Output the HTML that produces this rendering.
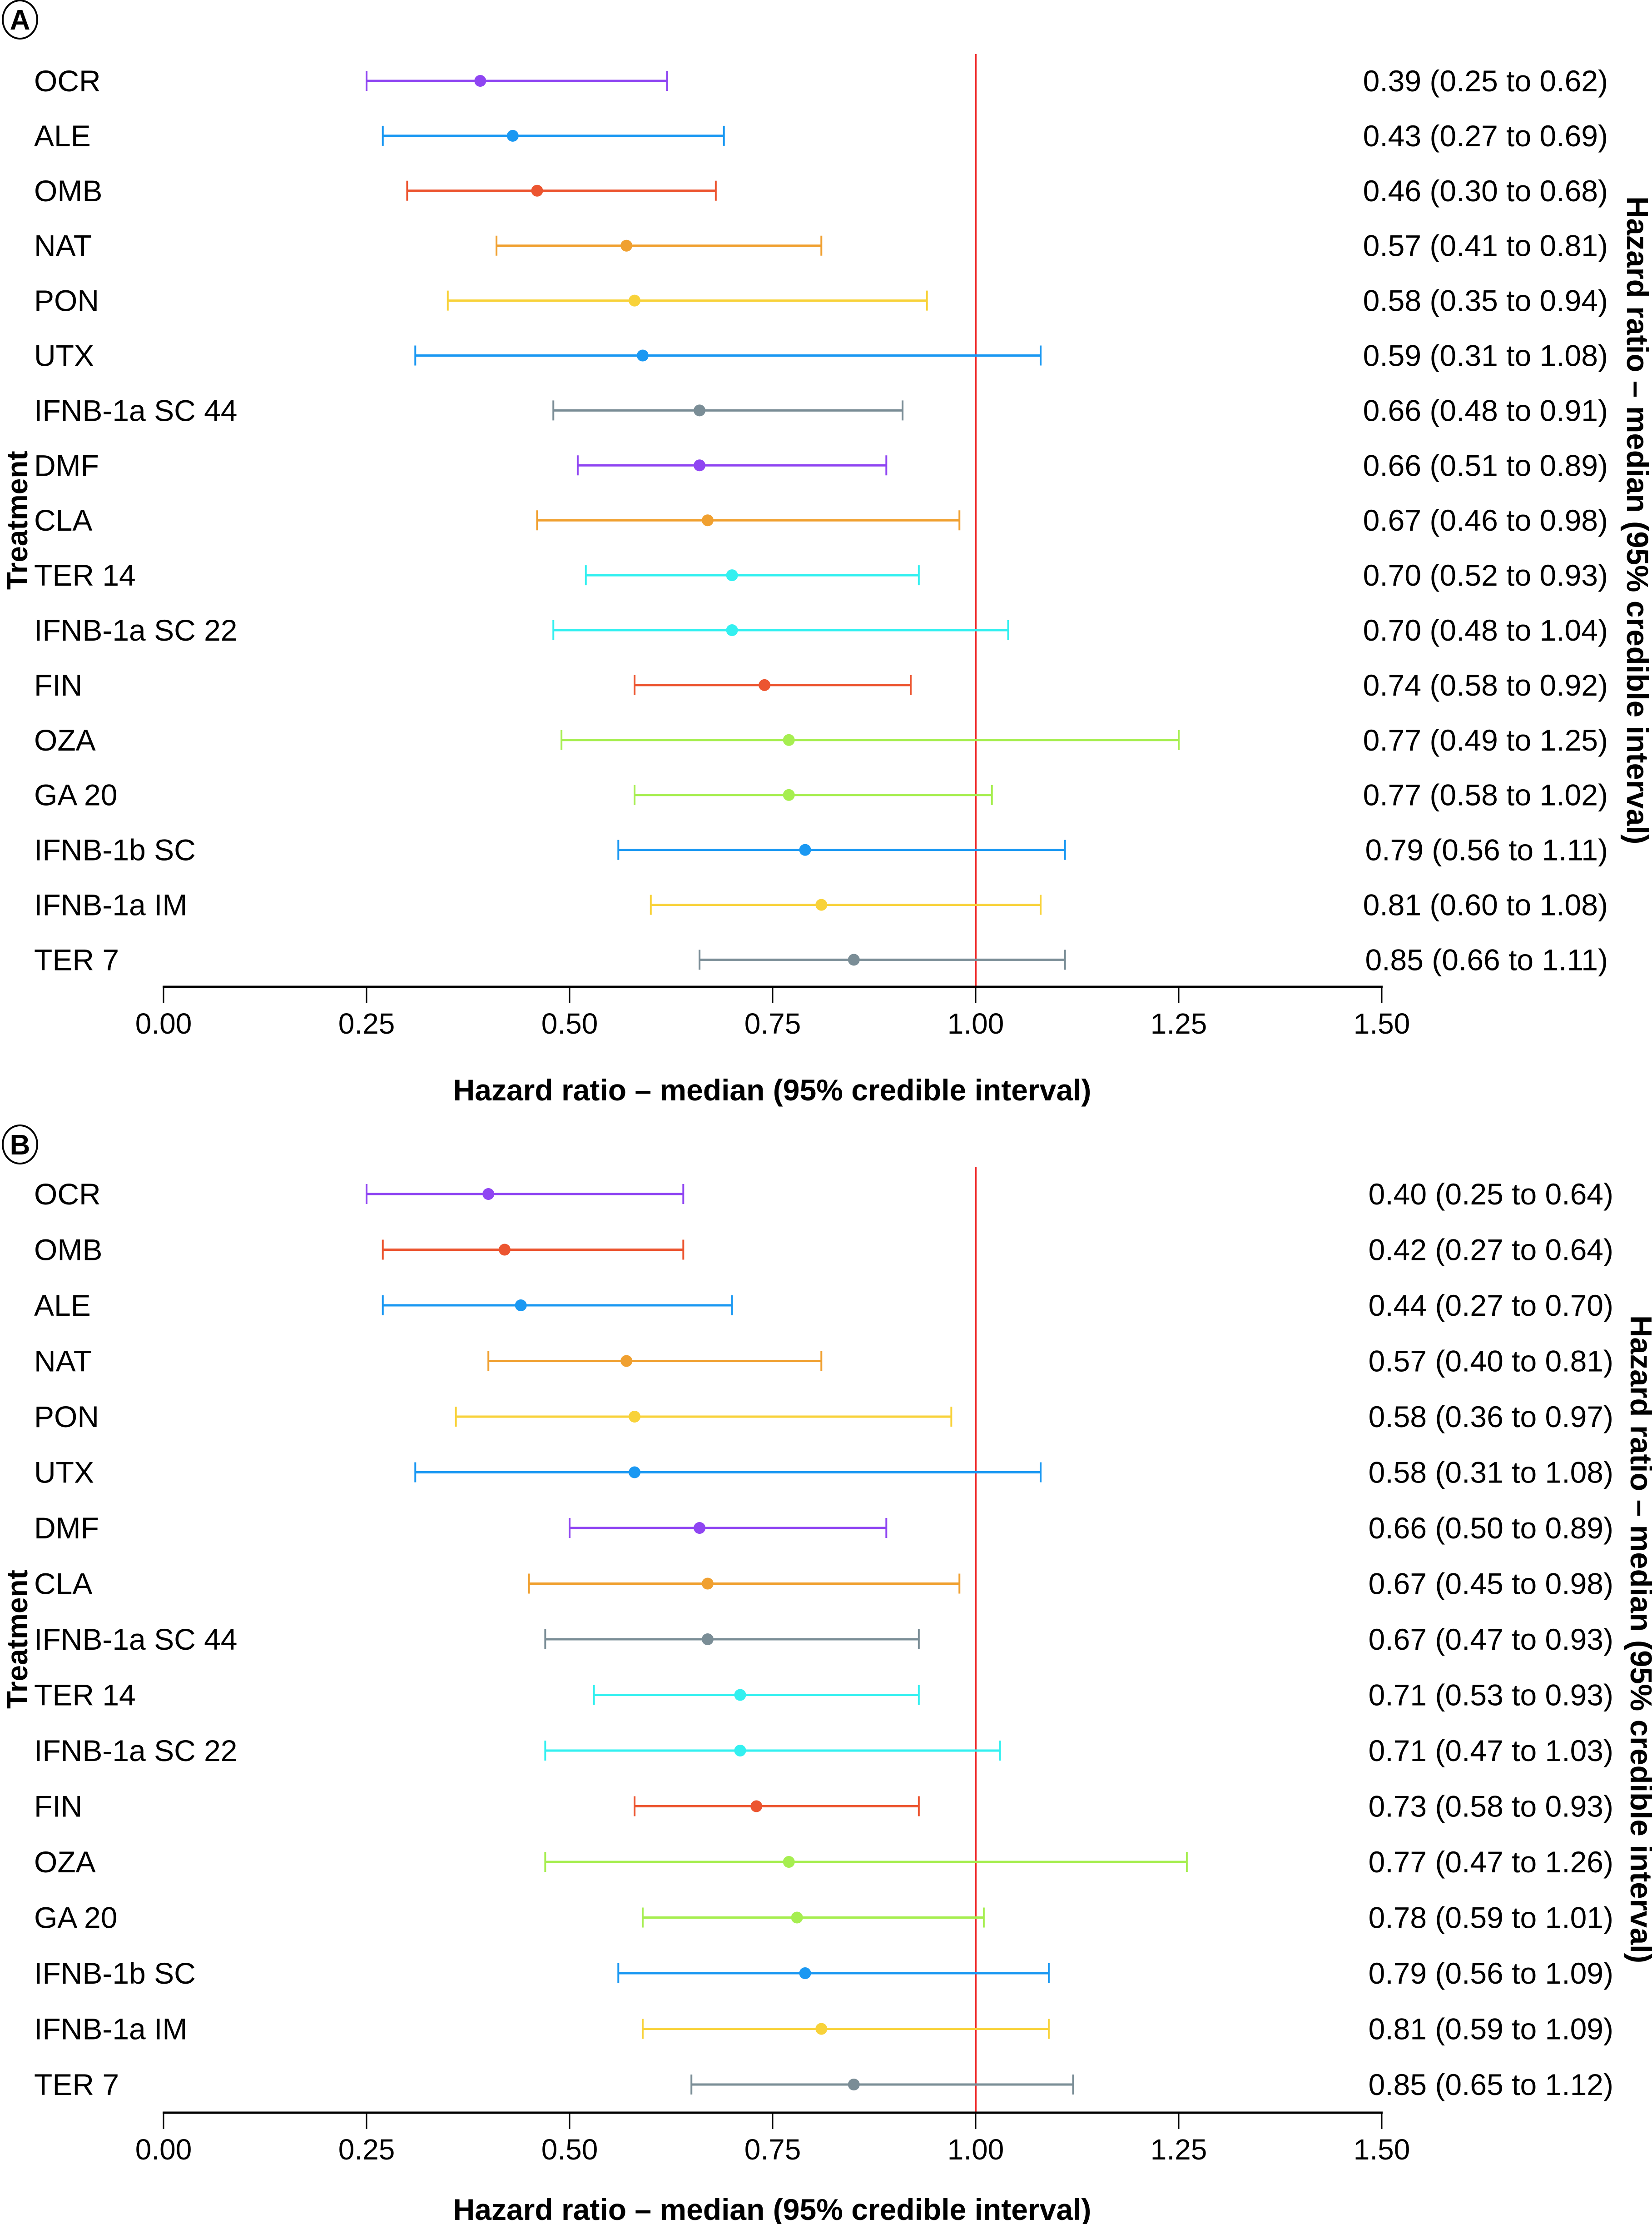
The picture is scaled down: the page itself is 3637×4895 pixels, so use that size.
<!DOCTYPE html>
<html><head><meta charset="utf-8"><style>
html,body{margin:0;padding:0;background:#fff}
svg{display:block;font-family:"Liberation Sans",sans-serif}
</style></head><body>
<svg id="chart" width="3637" height="4895" viewBox="0 0 3637 4895" xmlns="http://www.w3.org/2000/svg"></svg>
<script>
const labelsA = ["OCR","ALE","OMB","NAT","PON","UTX","IFNB-1a SC 44","DMF","CLA","TER 14","IFNB-1a SC 22","FIN","OZA","GA 20","IFNB-1b SC","IFNB-1a IM","TER 7"];
const medA = [0.39,0.43,0.46,0.57,0.58,0.59,0.66,0.66,0.67,0.70,0.70,0.74,0.77,0.77,0.79,0.81,0.85];
const lowA = [0.25,0.27,0.30,0.41,0.35,0.31,0.48,0.51,0.46,0.52,0.48,0.58,0.49,0.58,0.56,0.60,0.66];
const highA = [0.62,0.69,0.68,0.81,0.94,1.08,0.91,0.89,0.98,0.93,1.04,0.92,1.25,1.02,1.11,1.08,1.11];
const colorA = ["#8f45f2","#1a98f2","#ec5530","#f0a030","#f8d23a","#1a98f2","#7a8d96","#8f45f2","#f0a030","#33f0f0","#33f0f0","#ec5530","#a6ee50","#a6ee50","#1a98f2","#f8d23a","#7a8d96"];
const labelsB = ["OCR","OMB","ALE","NAT","PON","UTX","DMF","CLA","IFNB-1a SC 44","TER 14","IFNB-1a SC 22","FIN","OZA","GA 20","IFNB-1b SC","IFNB-1a IM","TER 7"];
const medB = [0.40,0.42,0.44,0.57,0.58,0.58,0.66,0.67,0.67,0.71,0.71,0.73,0.77,0.78,0.79,0.81,0.85];
const lowB = [0.25,0.27,0.27,0.40,0.36,0.31,0.50,0.45,0.47,0.53,0.47,0.58,0.47,0.59,0.56,0.59,0.65];
const highB = [0.64,0.64,0.70,0.81,0.97,1.08,0.89,0.98,0.93,0.93,1.03,0.93,1.26,1.01,1.09,1.09,1.12];
const colorB = ["#8f45f2","#ec5530","#1a98f2","#f0a030","#f8d23a","#1a98f2","#8f45f2","#f0a030","#7a8d96","#33f0f0","#33f0f0","#ec5530","#a6ee50","#a6ee50","#1a98f2","#f8d23a","#7a8d96"];
const ticks = [0,0.25,0.5,0.75,1,1.25,1.5];
const tickLabels = ["0.00","0.25","0.50","0.75","1.00","1.25","1.50"];

const NS="http://www.w3.org/2000/svg";
const svg=document.getElementById('chart');
function mk(tag,attrs,parent){const e=document.createElementNS(NS,tag);for(const k in attrs)e.setAttribute(k,attrs[k]);(parent||svg).appendChild(e);return e;}
const X0=360, XPU=1788;
function xs(v){return X0+v*XPU;}

function panel(letter,labels,med,low,high,cols,cfg){
  const g=mk('g',{});
  
  
  const b=mk('g',{},g);
  
  
  mk('ellipse',{cx:44,cy:cfg.badgeY,rx:38,ry:42,fill:'none',stroke:'#000','stroke-width':4},b);
  const bt=mk('text',{x:44,y:cfg.badgeY+22,'text-anchor':'middle','font-size':62,'font-weight':'bold'},b);bt.textContent=letter;
  const ys=i=>cfg.row0+i*cfg.step;
  const rl=mk('line',{x1:xs(1),x2:xs(1),y1:cfg.refTop,y2:cfg.axisY,stroke:'#ee2222','stroke-width':4},g);
  
  
  labels.forEach((lab,i)=>{
    const y=ys(i);
    const t=mk('text',{x:75,y:y+23,'font-size':66},g);t.textContent=lab;
    
    
    const r=mk('g',{},g);
    
    
    mk('line',{x1:xs(low[i]),x2:xs(high[i]),y1:y,y2:y,stroke:cols[i],'stroke-width':5},r);
    mk('line',{x1:xs(low[i]),x2:xs(low[i]),y1:y-22,y2:y+22,stroke:cols[i],'stroke-width':4},r);
    mk('line',{x1:xs(high[i]),x2:xs(high[i]),y1:y-22,y2:y+22,stroke:cols[i],'stroke-width':4},r);
    const d=mk('circle',{cx:xs(med[i]),cy:y,r:13,fill:cols[i]},r);
    
    
    const v=mk('text',{x:cfg.valX,y:y+23,'font-size':66,'text-anchor':'end'},g);
    v.textContent=med[i].toFixed(2)+' ('+low[i].toFixed(2)+' to '+high[i].toFixed(2)+')';
    
    
  });
  const ax=mk('g',{},g);
  
  
  mk('line',{x1:xs(0)-2,x2:xs(1.5)+2,y1:cfg.axisY,y2:cfg.axisY,stroke:'#000','stroke-width':5},ax);
  ticks.forEach((tv,i)=>{
    mk('line',{x1:xs(tv),x2:xs(tv),y1:cfg.axisY,y2:cfg.axisY+36,stroke:'#000','stroke-width':3},ax);
    const tl=mk('text',{x:xs(tv),y:cfg.axisY+103,'font-size':64,'text-anchor':'middle'},ax);tl.textContent=tickLabels[i];
    
    
  });
  const xt=mk('text',{x:1700,y:cfg.titleY,'font-size':66,'font-weight':'bold','text-anchor':'middle'},g);
  xt.textContent='Hazard ratio – median (95% credible interval)';
  
  
  const midY=(ys(0)+ys(16))/2;
  const yt=mk('text',{x:0,y:0,'font-size':64,'font-weight':'bold','text-anchor':'middle',transform:`translate(60,${midY}) rotate(-90)`},g);
  yt.textContent='Treatment';
  
  
  const rt=mk('text',{x:0,y:0,'font-size':67,'font-weight':'bold','text-anchor':'middle',transform:`translate(${cfg.rtX},${midY}) rotate(90)`},g);
  rt.textContent='Hazard ratio – median (95% credible interval)';
  
  
}
panel('A',labelsA,medA,lowA,highA,colorA,{badgeY:43,row0:178,step:120.9,refTop:119,axisY:2172,titleY:2422,valX:3540,rtX:3582});
panel('B',labelsB,medB,lowB,highB,colorB,{badgeY:2519,row0:2628,step:122.5,refTop:2568,axisY:4650,titleY:4886,valX:3552,rtX:3590});
</script>
</body></html>
